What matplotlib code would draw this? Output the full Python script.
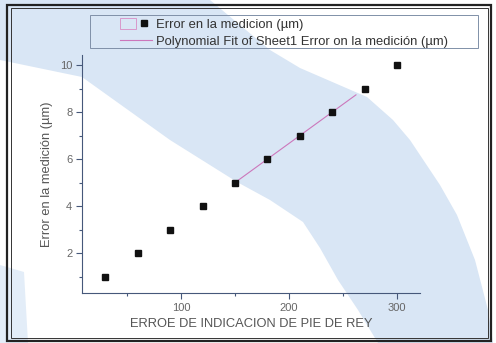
import numpy as np
import matplotlib.pyplot as plt
from matplotlib.patches import Rectangle, Polygon
from matplotlib.lines import Line2D
from matplotlib.legend_handler import HandlerTuple

plt.rcParams['font.family'] = ['Liberation Sans', 'DejaVu Sans']

# Datos
indicacion = [30, 60, 90, 120, 150, 180, 210, 240, 270, 300]
error_medicion = [1, 2, 3, 4, 5, 6, 7, 8, 9, 10]
puntos_ajuste = slice(4, 8)      # puntos 150..240 usados en el ajuste
rango_ajuste = [150, 262]        # tramo dibujado de la recta

etiqueta_datos = "Error en la medicion (µm)"
etiqueta_ajuste = "Polynomial Fit of Sheet1 Error on la medición (µm)"
titulo_x = "ERROE DE INDICACION DE PIE DE REY"
titulo_y = "Error en la medición (µm)"

W, H = 496, 343
fig = plt.figure(figsize=(W / 100, H / 100), dpi=100)
fig.patch.set_facecolor('white')


def px(x, y):
    # pixel de la imagen -> fraccion de figura
    return (x / W, 1 - y / H)


# Franja azul del papel escaneado (fondo)
borde_ext = [(0, 0), (210, 0), (270, 50), (300, 68), (367, 97), (393, 120),
             (410, 140), (440, 185), (457, 215), (475, 260), (488, 310),
             (493, 343)]
borde_int = [(378, 343), (358, 310), (338, 280), (320, 248), (303, 222),
             (270, 200), (237, 182), (170, 140), (82, 77), (0, 60)]
fig.add_artist(Polygon([px(*p) for p in borde_ext + borde_int], closed=True,
                       facecolor='#d9e6f5', edgecolor='none', zorder=-3))
fig.add_artist(Polygon([px(*p) for p in [(0, 265), (24, 272), (28, 343), (0, 343)]],
                       closed=True, facecolor='#e3edf8', edgecolor='none', zorder=-3))

# Marco doble
fig.add_artist(Rectangle(px(7, 341), 484 / W, 336 / H, fill=False,
                         edgecolor='#222', lw=1.6, zorder=-1))
fig.add_artist(Rectangle(px(11, 338), 477 / W, 330 / H, fill=False,
                         edgecolor='#333', lw=0.7, zorder=-1))

# Ejes
ax = fig.add_axes([82 / W, 1 - 293 / H, 338 / W, 238 / H])
ax.set_facecolor('none')

ax.plot(indicacion, error_medicion, 's', ms=4.6, color='#111', zorder=3)
coef = np.polyfit(indicacion[puntos_ajuste], error_medicion[puntos_ajuste], 1)
xs = np.linspace(rango_ajuste[0], rango_ajuste[1], 50)
ax.plot(xs, np.polyval(coef, xs), color='#cc77bb', lw=0.8, zorder=2)

ax.set_xlim(8.3, 321.3)
ax.set_ylim(0.3, 10.43)
ax.set_xticks([100, 200, 300])
ax.set_xticks([50, 150, 250], minor=True)
ax.set_yticks([2, 4, 6, 8, 10])
ax.set_yticks([1, 3, 5, 7, 9], minor=True)

for s in ['top', 'right']:
    ax.spines[s].set_visible(False)
for s in ['left', 'bottom']:
    ax.spines[s].set_color('#46587a')
    ax.spines[s].set_linewidth(0.8)

ax.tick_params(which='both', direction='out', color='#46587a', width=0.8,
               labelsize=8, labelcolor='#666', pad=3)
ax.tick_params(which='major', length=4)
ax.tick_params(which='minor', length=2.5)

ax.set_xlabel(titulo_x, fontsize=9.3, color='#555')
ax.set_ylabel(titulo_y, fontsize=9.3, color='#555')
ax.xaxis.set_label_coords(0.5, -0.103)
ax.yaxis.set_label_coords(-0.086, 0.5)

# Leyenda
fig.add_artist(Rectangle(px(90, 48), 388 / W, 33 / H, fill=False,
                         edgecolor='#8090a8', lw=0.7, zorder=1))
h_datos = (Rectangle((0, 0), 1, 1, facecolor='none', edgecolor='#d88cc4', lw=0.6),
           Line2D([], [], ls='none', marker='s', ms=4.2, color='#111'))
h_ajuste = Line2D([], [], color='#cc77bb', lw=0.8)
fig.legend([h_datos, h_ajuste], [etiqueta_datos, etiqueta_ajuste],
           handler_map={tuple: HandlerTuple(ndivide=None)},
           loc='upper left', bbox_to_anchor=px(120, 17.5), frameon=False,
           borderpad=0, borderaxespad=0, fontsize=9.4, labelcolor='#333',
           handlelength=2.45, handleheight=1.0, handletextpad=0.3,
           labelspacing=0.28)

fig.savefig('out.png', dpi=100)
